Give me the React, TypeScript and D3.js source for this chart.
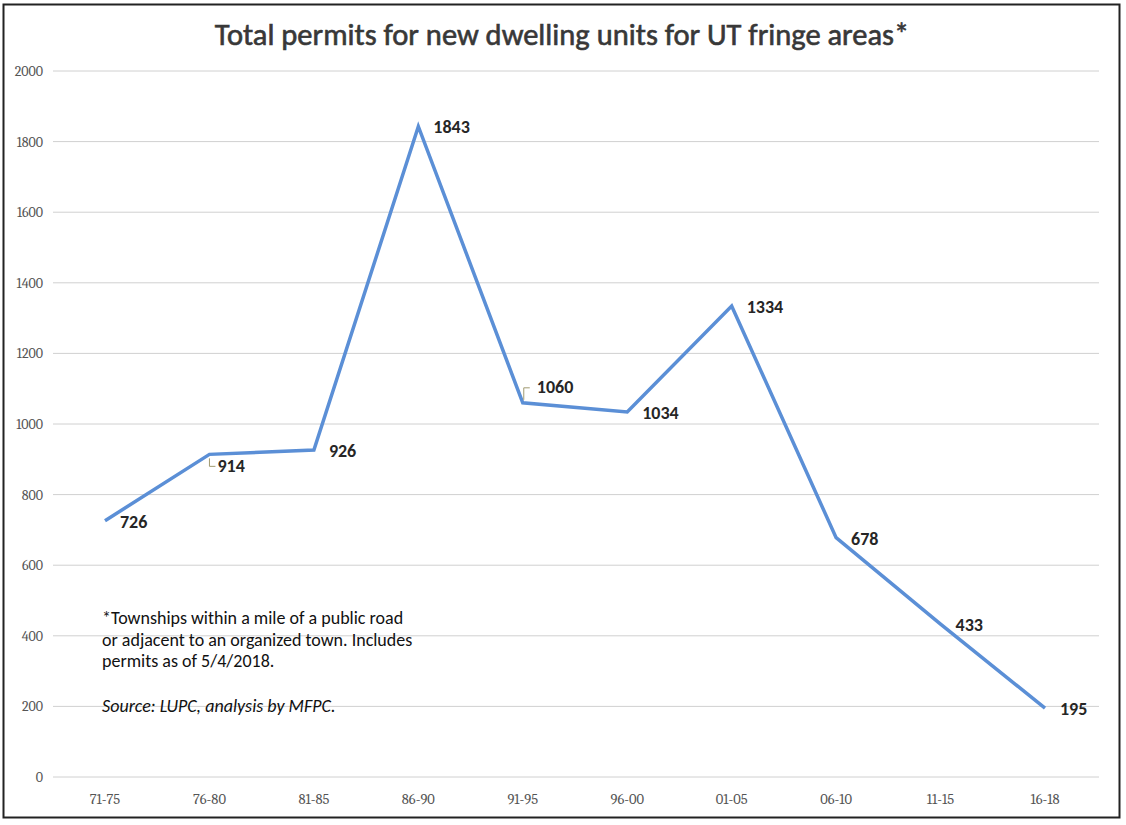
import React from "react";
import * as d3 from "d3";

const categories = ["71-75", "76-80", "81-85", "86-90", "91-95", "96-00", "01-05", "06-10", "11-15", "16-18"];
const permits = [726, 914, 926, 1843, 1060, 1034, 1334, 678, 433, 195];
const labelPlacement = ["right", "below", "right", "right", "above", "right", "right", "right", "right", "right"];
const yTicks = [0, 200, 400, 600, 800, 1000, 1200, 1400, 1600, 1800, 2000];
const title = "Total permits for new dwelling units for UT fringe areas*";
const noteLines = [
  "*Townships within a mile of a public road",
  "or adjacent to an organized town. Includes",
  "permits as of 5/4/2018.",
];
const sourceText = "Source: LUPC, analysis by MFPC.";

const W = 1126;
const H = 825;

export default function App() {
  const x = d3.scalePoint<string>().domain(categories).range([105, 1045]);
  const y = d3.scaleLinear().domain([0, 2000]).range([777, 71]);
  const line = d3
    .line<number>()
    .x((_, i) => x(categories[i]) as number)
    .y((d) => y(d));

  const sans = "Calibri, Carlito, Lato, 'Open Sans', sans-serif";
  const serif = "Cambria, 'Liberation Serif', 'DejaVu Serif', serif";

  return (
    <svg width={W} height={H} style={{ position: "absolute", left: 0, top: 0, background: "#fff" }}>
      <rect x={0} y={0} width={W} height={H} fill="#fff" />
      <rect x={3.5} y={4.5} width={1116} height={813} fill="none" stroke="#222" strokeWidth={2} />
      <text x={562} y={45} textAnchor="middle" fontFamily={sans} fontSize={30.5} fill="#383838" stroke="#383838" strokeWidth={0.6}>
        {title}
      </text>
      {yTicks.map((t) => (
        <g key={t}>
          <line x1={53} x2={1099} y1={y(t)} y2={y(t)} stroke="#d0d0d0" strokeWidth={1} />
          <text x={43} y={y(t) + 5} textAnchor="end" fontFamily={serif} fontSize={14} fill="#555">
            {t}
          </text>
        </g>
      ))}
      {categories.map((c) => (
        <text key={c} x={x(c)} y={804} textAnchor="middle" fontFamily={serif} fontSize={14.5} fill="#555">
          {c}
        </text>
      ))}
      <path d={line(permits) || ""} fill="none" stroke="#5b8fd6" strokeWidth={3.5} strokeLinejoin="miter" />
      {permits.map((v, i) => {
        const px = x(categories[i]) as number;
        const py = y(v);
        const p = labelPlacement[i];
        if (p === "below") {
          return (
            <g key={i}>
              <path d={`M${px},${py + 4}V${py + 12}H${px + 6}`} fill="none" stroke="#a09a70" strokeWidth={1} />
              <text x={px + 8} y={py + 18} fontFamily={sans} fontWeight="bold" fontSize={18} fill="#262626">
                {v}
              </text>
            </g>
          );
        }
        if (p === "above") {
          return (
            <g key={i}>
              <path d={`M${px + 1},${py - 3}V${py - 15}H${px + 7}`} fill="none" stroke="#a09a70" strokeWidth={1} />
              <text x={px + 14} y={py - 10} fontFamily={sans} fontWeight="bold" fontSize={18} fill="#262626">
                {v}
              </text>
            </g>
          );
        }
        return (
          <text key={i} x={px + 15} y={py + 7} fontFamily={sans} fontWeight="bold" fontSize={18} fill="#262626">
            {v}
          </text>
        );
      })}
      {noteLines.map((l, i) => (
        <text key={i} x={102} y={624 + i * 21.5} fontFamily={sans} fontSize={18} fill="#111">
          {l}
        </text>
      ))}
      <text x={102} y={712} fontFamily={sans} fontSize={18} fontStyle="italic" fill="#111">
        {sourceText}
      </text>
    </svg>
  );
}
